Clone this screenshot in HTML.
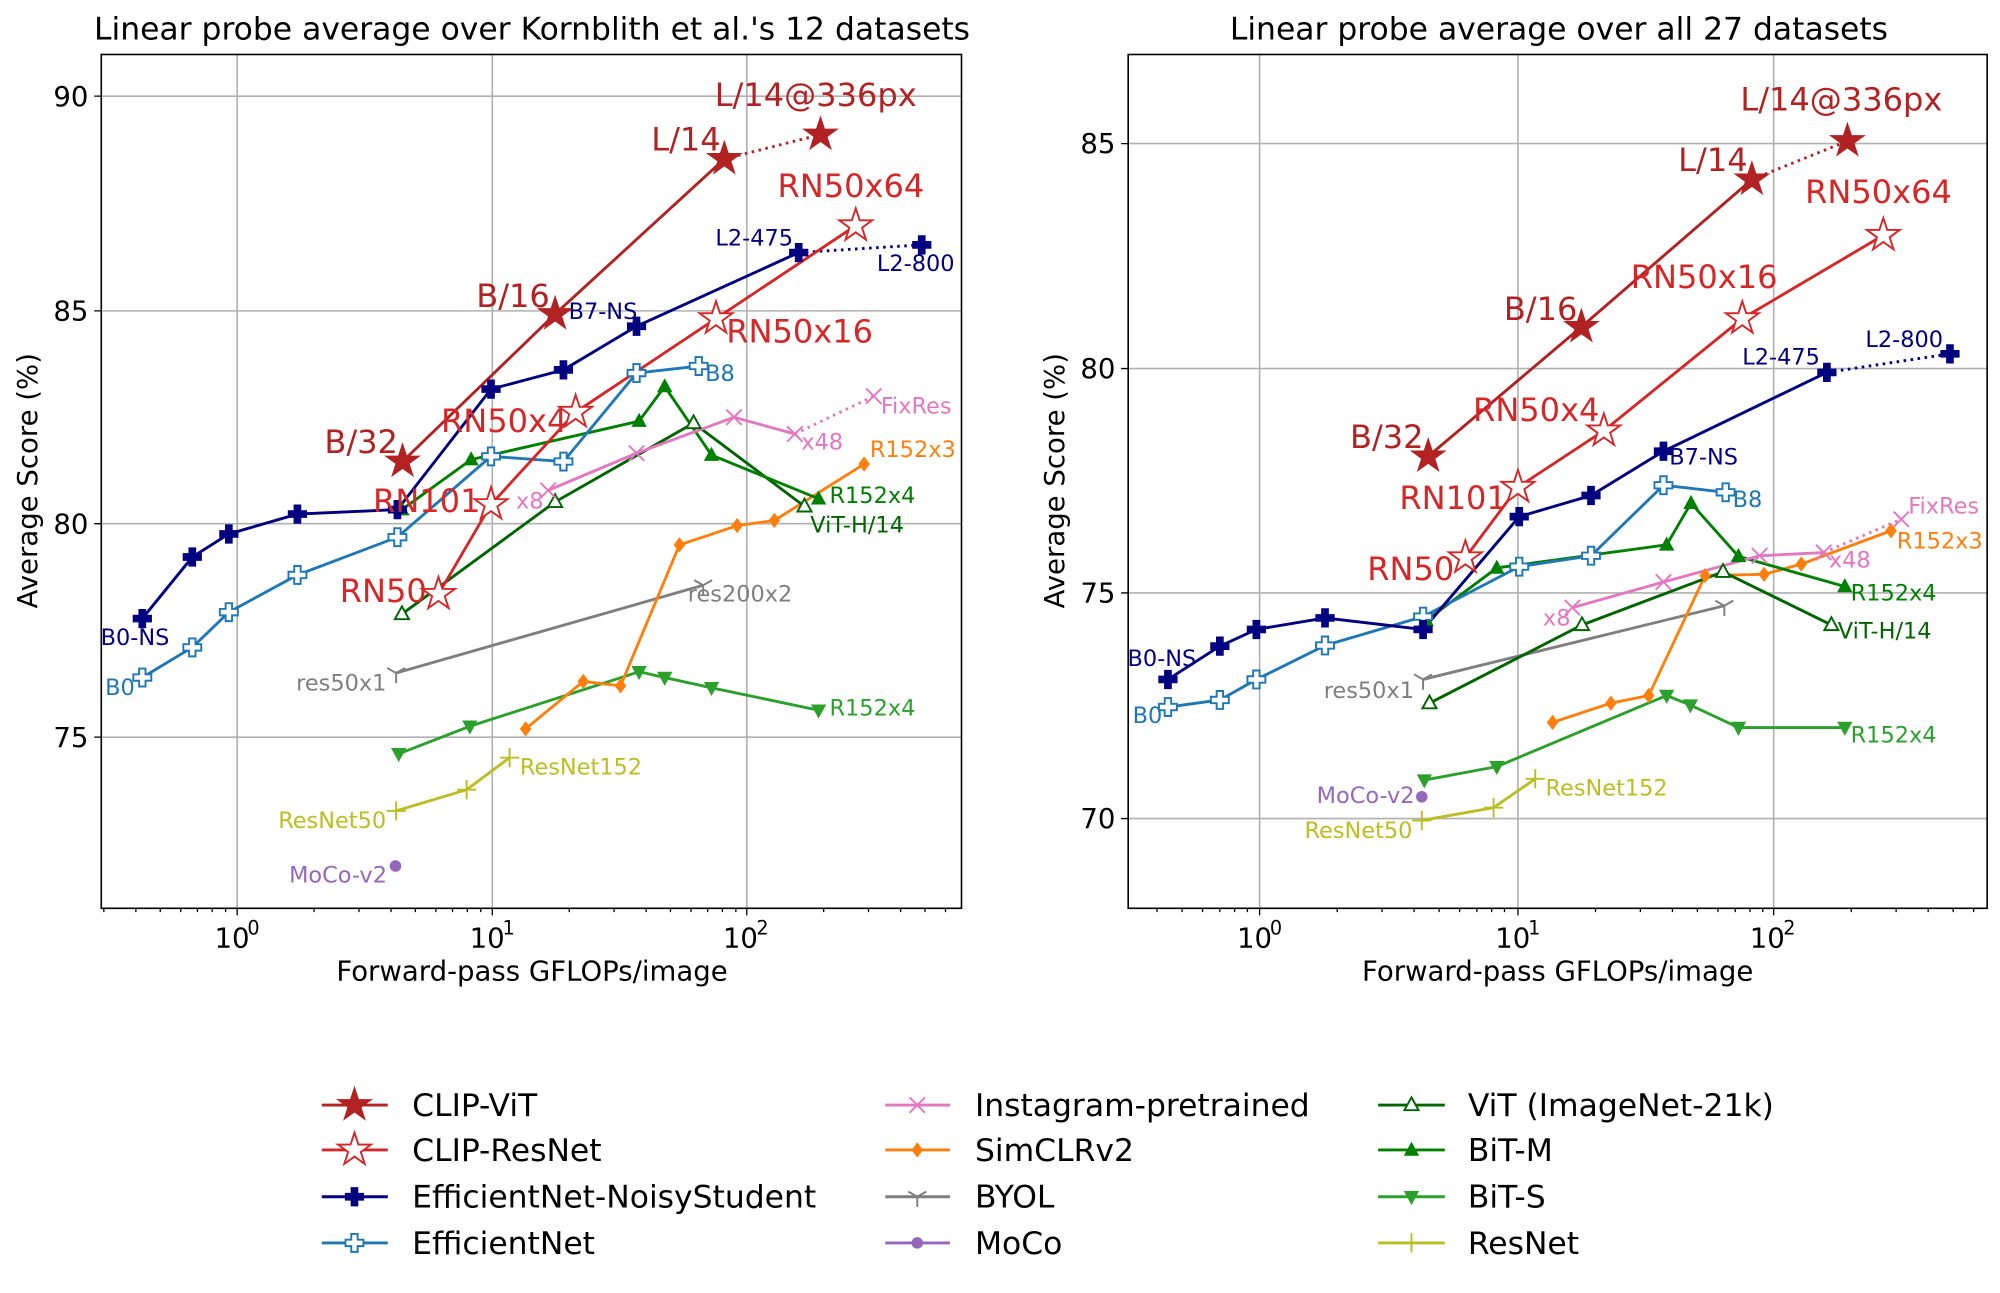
<!DOCTYPE html>
<html><head><meta charset="utf-8"><style>
html,body{margin:0;padding:0;background:#fff}
svg{display:block}
text{font-family:"DejaVu Sans","Liberation Sans",sans-serif}
</style></head><body>
<svg width="2000" height="1293" viewBox="0 0 2000 1293" xmlns="http://www.w3.org/2000/svg">
<defs>
<g id="starF"><polygon points="0,-27 6.1,-8.4 25.7,-8.3 9.9,3.2 15.9,21.8 0,10.4 -15.9,21.8 -9.9,3.2 -25.7,-8.3 -6.1,-8.4" fill="#b22222" stroke="#b22222" stroke-width="2"/></g>
<g id="starO"><polygon points="0,-27 6.1,-8.4 25.7,-8.3 9.9,3.2 15.9,21.8 0,10.4 -15.9,21.8 -9.9,3.2 -25.7,-8.3 -6.1,-8.4" fill="#fff" stroke="#d62728" stroke-width="3"/></g>
<g id="plusF"><path d="M-5,-14H5V-5H14V5H5V14H-5V5H-14V-5H-5Z" fill="#000080" stroke="#000080" stroke-width="2"/></g>
<g id="plusO"><path d="M-5,-14H5V-5H14V5H5V14H-5V5H-14V-5H-5Z" fill="#fff" stroke="#1f77b4" stroke-width="3"/></g>
<g id="xm"><path d="M-12,-12L12,12M-12,12L12,-12" stroke="#e377c2" stroke-width="3"/></g>
<g id="dia"><polygon points="0,-12 9,0 0,12 -9,0" fill="#ff7f0e"/></g>
<g id="tri1"><path d="M0,0V16M0,0L-14,-8M0,0L14,-8" stroke="#7f7f7f" stroke-width="3" fill="none"/></g>
<g id="circ"><circle r="9" fill="#9467bd"/></g>
<g id="triO"><polygon points="0,-12 11,8 -11,8" fill="#fff" stroke="#006400" stroke-width="3"/></g>
<g id="triM"><polygon points="0,-13 12,9 -12,9" fill="#008000"/></g>
<g id="triS"><polygon points="0,13 12,-9 -12,-9" fill="#2ca02c"/></g>
<g id="plusT"><path d="M-15,0H15M0,-15V15" stroke="#bcbd22" stroke-width="3"/></g>
</defs>

<!-- LEFT PLOT -->
<g transform="scale(0.641)">
<text x="830" y="62" font-size="49" text-anchor="middle">Linear probe average over Kornblith et al.'s 12 datasets</text>
<g stroke="#b0b0b0" stroke-width="2.5">
<line x1="370" y1="85" x2="370" y2="1417"/><line x1="768" y1="85" x2="768" y2="1417"/><line x1="1165" y1="85" x2="1165" y2="1417"/>
<line x1="158" y1="150" x2="1500" y2="150"/><line x1="158" y1="485" x2="1500" y2="485"/><line x1="158" y1="817" x2="1500" y2="817"/><line x1="158" y1="1150" x2="1500" y2="1150"/>
</g>
<g stroke="#000" stroke-width="2">
<path d="M162,1417v6M212,1417v6M250,1417v6M282,1417v6M308,1417v6M331,1417v6M352,1417v6M490,1417v6M560,1417v6M610,1417v6M648,1417v6M680,1417v6M706,1417v6M729,1417v6M750,1417v6M888,1417v6M958,1417v6M1008,1417v6M1046,1417v6M1078,1417v6M1104,1417v6M1127,1417v6M1148,1417v6M1285,1417v6M1355,1417v6M1405,1417v6M1443,1417v6M1475,1417v6"/>
<path d="M370,1417v11M768,1417v11M1165,1417v11M158,150h-11M158,485h-11M158,817h-11M158,1150h-11"/>
</g>
<g font-size="43" text-anchor="end"><text x="138" y="165">90</text><text x="138" y="500">85</text><text x="138" y="832">80</text><text x="138" y="1165">75</text></g>
<g font-size="43" text-anchor="middle"><text x="362" y="1478">10</text><text x="760" y="1478">10</text><text x="1155" y="1478">10</text></g>
<g font-size="30"><text x="386" y="1458">0</text><text x="784" y="1458">1</text><text x="1180" y="1458">2</text></g>
<text x="830" y="1530" font-size="43" text-anchor="middle">Forward-pass GFLOPs/image</text>
<text transform="translate(58,750) rotate(-90)" font-size="43" text-anchor="middle">Average Score (%)</text>

<g fill="none" stroke-width="4.5">
<polyline stroke="#bcbd22" points="618,1265 728,1232 795,1182"/>
<polyline stroke="#2ca02c" points="622,1176 733,1133 997,1048 1037,1057 1110,1073 1277,1108"/>
<polyline stroke="#7f7f7f" points="618,1050 1097,913"/>
<polyline stroke="#ff7f0e" points="820,1137 910,1063 968,1070 1060,850 1150,820 1208,812 1348,724"/>
<polyline stroke="#006400" points="627,958 866,783 1082,660 1255,790"/>
<polyline stroke="#008000" points="627,795 735,717 997,657 1037,603 1110,710 1277,778"/>
<polyline stroke="#e377c2" points="855,765 993,707 1145,651 1240,677"/>
<polyline stroke="#e377c2" stroke-dasharray="4,7" points="1240,677 1363,618"/>
<polyline stroke="#1f77b4" points="222,1057 300,1010 357,955 464,897 620,838 766,712 879,720 993,582 1090,571"/>
<polyline stroke="#000080" points="222,965 300,869 357,833 464,802 620,795 766,607 879,577 993,509 1246,394"/>
<polyline stroke="#000080" stroke-dasharray="4,7" points="1246,394 1438,382"/>
<polyline stroke="#d62728" points="684,927 766,787 898,643 1117,497 1335,352"/>
<polyline stroke="#b22222" points="628,720 866,490 1130,248"/>
<polyline stroke="#b22222" stroke-dasharray="4,7" points="1130,248 1280,210"/>
</g>
<use href="#plusT" x="618" y="1265"/><use href="#plusT" x="728" y="1232"/><use href="#plusT" x="795" y="1182"/>
<use href="#triS" x="622" y="1176"/><use href="#triS" x="733" y="1133"/><use href="#triS" x="997" y="1048"/><use href="#triS" x="1037" y="1057"/><use href="#triS" x="1110" y="1073"/><use href="#triS" x="1277" y="1108"/>
<use href="#tri1" x="618" y="1050"/><use href="#tri1" x="1097" y="913"/>
<use href="#circ" x="617" y="1351"/>
<use href="#dia" x="820" y="1137"/><use href="#dia" x="910" y="1063"/><use href="#dia" x="968" y="1070"/><use href="#dia" x="1060" y="850"/><use href="#dia" x="1150" y="820"/><use href="#dia" x="1208" y="812"/><use href="#dia" x="1348" y="724"/>
<use href="#triO" x="627" y="958"/><use href="#triO" x="866" y="783"/><use href="#triO" x="1082" y="660"/><use href="#triO" x="1255" y="790"/>
<use href="#triM" x="627" y="795"/><use href="#triM" x="735" y="717"/><use href="#triM" x="997" y="657"/><use href="#triM" x="1037" y="603"/><use href="#triM" x="1110" y="710"/><use href="#triM" x="1277" y="778"/>
<use href="#xm" x="855" y="765"/><use href="#xm" x="993" y="707"/><use href="#xm" x="1145" y="651"/><use href="#xm" x="1240" y="677"/><use href="#xm" x="1363" y="618"/>
<use href="#plusO" x="222" y="1057"/><use href="#plusO" x="300" y="1010"/><use href="#plusO" x="357" y="955"/><use href="#plusO" x="464" y="897"/><use href="#plusO" x="620" y="838"/><use href="#plusO" x="766" y="712"/><use href="#plusO" x="879" y="720"/><use href="#plusO" x="993" y="582"/><use href="#plusO" x="1090" y="571"/>
<use href="#plusF" x="222" y="965"/><use href="#plusF" x="300" y="869"/><use href="#plusF" x="357" y="833"/><use href="#plusF" x="464" y="802"/><use href="#plusF" x="620" y="795"/><use href="#plusF" x="766" y="607"/><use href="#plusF" x="879" y="577"/><use href="#plusF" x="993" y="509"/><use href="#plusF" x="1246" y="394"/><use href="#plusF" x="1438" y="382"/>
<use href="#starO" x="684" y="927"/><use href="#starO" x="766" y="787"/><use href="#starO" x="898" y="643"/><use href="#starO" x="1117" y="497"/><use href="#starO" x="1335" y="352"/>
<use href="#starF" x="628" y="720"/><use href="#starF" x="866" y="490"/><use href="#starF" x="1130" y="248"/><use href="#starF" x="1280" y="210"/>
<g font-size="50" fill="#b22222"><text x="506" y="707">B/32</text><text x="743" y="479">B/16</text><text x="1016" y="235">L/14</text><text x="1115" y="165">L/14@336px</text></g>
<g font-size="50" fill="#d62728"><text x="530" y="939">RN50</text><text x="582" y="799">RN101</text><text x="688" y="674">RN50x4</text><text x="1133" y="534">RN50x16</text><text x="1213" y="307">RN50x64</text></g>
<g font-size="35">
<g fill="#000080"><text x="157" y="1006">B0-NS</text><text x="887" y="498">B7-NS</text><text x="1116" y="383">L2-475</text><text x="1368" y="423">L2-800</text></g>
<g fill="#1f77b4"><text x="164" y="1084">B0</text><text x="1100" y="594">B8</text></g>
<g fill="#e377c2"><text x="805" y="793">x8</text><text x="1250" y="701">x48</text><text x="1374" y="645">FixRes</text></g>
<g fill="#ff7f0e"><text x="1357" y="713">R152x3</text></g>
<g fill="#7f7f7f"><text x="462" y="1077">res50x1</text><text x="1073" y="938">res200x2</text></g>
<g fill="#9467bd"><text x="451" y="1377">MoCo-v2</text></g>
<g fill="#006400"><text x="1264" y="831">ViT-H/14</text></g>
<g fill="#008000"><text x="1294" y="785">R152x4</text></g>
<g fill="#2ca02c"><text x="1294" y="1116">R152x4</text></g>
<g fill="#bcbd22"><text x="434" y="1292">ResNet50</text><text x="811" y="1208">ResNet152</text></g>
</g>
<rect x="158" y="85" width="1342" height="1332" fill="none" stroke="#000" stroke-width="2.5"/>
</g>

<!-- RIGHT PLOT -->
<g transform="translate(1000,0) scale(0.641)">
<text x="872" y="62" font-size="49" text-anchor="middle">Linear probe average over all 27 datasets</text>
<g stroke="#b0b0b0" stroke-width="2.5">
<line x1="405" y1="85" x2="405" y2="1417"/><line x1="808" y1="85" x2="808" y2="1417"/><line x1="1207" y1="85" x2="1207" y2="1417"/>
<line x1="200" y1="224" x2="1540" y2="224"/><line x1="200" y1="575" x2="1540" y2="575"/><line x1="200" y1="925" x2="1540" y2="925"/><line x1="200" y1="1277" x2="1540" y2="1277"/>
</g>
<g stroke="#000" stroke-width="2">
<path d="M245,1417v6M284,1417v6M316,1417v6M343,1417v6M366,1417v6M386,1417v6M526,1417v6M596,1417v6M646,1417v6M685,1417v6M717,1417v6M744,1417v6M767,1417v6M787,1417v6M929,1417v6M999,1417v6M1049,1417v6M1088,1417v6M1120,1417v6M1147,1417v6M1170,1417v6M1190,1417v6M1328,1417v6M1398,1417v6M1448,1417v6M1487,1417v6M1519,1417v6"/>
<path d="M405,1417v11M808,1417v11M1207,1417v11M200,224h-11M200,575h-11M200,925h-11M200,1277h-11"/>
</g>
<g font-size="43" text-anchor="end"><text x="180" y="239">85</text><text x="180" y="590">80</text><text x="180" y="940">75</text><text x="180" y="1292">70</text></g>
<g font-size="43" text-anchor="middle"><text x="397" y="1478">10</text><text x="800" y="1478">10</text><text x="1197" y="1478">10</text></g>
<g font-size="30"><text x="421" y="1458">0</text><text x="824" y="1458">1</text><text x="1222" y="1458">2</text></g>
<text x="870" y="1530" font-size="43" text-anchor="middle">Forward-pass GFLOPs/image</text>
<text transform="translate(100,750) rotate(-90)" font-size="43" text-anchor="middle">Average Score (%)</text>

<g fill="none" stroke-width="4.5">
<polyline stroke="#bcbd22" points="658,1280 770,1260 835,1215"/>
<polyline stroke="#2ca02c" points="662,1217 775,1196 1040,1085 1077,1100 1152,1135 1318,1135"/>
<polyline stroke="#7f7f7f" points="660,1060 1130,945"/>
<polyline stroke="#ff7f0e" points="862,1127 953,1097 1012,1085 1100,898 1192,896 1250,880 1390,828"/>
<polyline stroke="#006400" points="670,1097 908,975 1128,892 1297,975"/>
<polyline stroke="#008000" points="665,968 775,886 1040,850 1078,785 1152,868 1318,915"/>
<polyline stroke="#e377c2" points="893,948 1035,908 1185,867 1285,862"/>
<polyline stroke="#e377c2" stroke-dasharray="4,7" points="1285,862 1406,810"/>
<polyline stroke="#1f77b4" points="262,1103 343,1092 400,1060 507,1007 660,962 810,884 922,867 1035,757 1132,768"/>
<polyline stroke="#000080" points="262,1060 343,1008 400,982 507,964 660,982 810,806 922,773 1035,704 1290,581"/>
<polyline stroke="#000080" stroke-dasharray="4,7" points="1290,581 1482,552"/>
<polyline stroke="#d62728" points="726,870 808,760 942,672 1158,497 1378,367"/>
<polyline stroke="#b22222" points="668,712 907,510 1173,280"/>
<polyline stroke="#b22222" stroke-dasharray="4,7" points="1173,280 1322,220"/>
</g>
<use href="#plusT" x="658" y="1280"/><use href="#plusT" x="770" y="1260"/><use href="#plusT" x="835" y="1215"/>
<use href="#triS" x="662" y="1217"/><use href="#triS" x="775" y="1196"/><use href="#triS" x="1040" y="1085"/><use href="#triS" x="1077" y="1100"/><use href="#triS" x="1152" y="1135"/><use href="#triS" x="1318" y="1135"/>
<use href="#tri1" x="660" y="1060"/><use href="#tri1" x="1130" y="945"/>
<use href="#circ" x="658" y="1243"/>
<use href="#dia" x="862" y="1127"/><use href="#dia" x="953" y="1097"/><use href="#dia" x="1012" y="1085"/><use href="#dia" x="1100" y="898"/><use href="#dia" x="1192" y="896"/><use href="#dia" x="1250" y="880"/><use href="#dia" x="1390" y="828"/>
<use href="#triO" x="670" y="1097"/><use href="#triO" x="908" y="975"/><use href="#triO" x="1128" y="892"/><use href="#triO" x="1297" y="975"/>
<use href="#triM" x="665" y="968"/><use href="#triM" x="775" y="886"/><use href="#triM" x="1040" y="850"/><use href="#triM" x="1078" y="785"/><use href="#triM" x="1152" y="868"/><use href="#triM" x="1318" y="915"/>
<use href="#xm" x="893" y="948"/><use href="#xm" x="1035" y="908"/><use href="#xm" x="1185" y="867"/><use href="#xm" x="1285" y="862"/><use href="#xm" x="1406" y="810"/>
<use href="#plusO" x="262" y="1103"/><use href="#plusO" x="343" y="1092"/><use href="#plusO" x="400" y="1060"/><use href="#plusO" x="507" y="1007"/><use href="#plusO" x="660" y="962"/><use href="#plusO" x="810" y="884"/><use href="#plusO" x="922" y="867"/><use href="#plusO" x="1035" y="757"/><use href="#plusO" x="1132" y="768"/>
<use href="#plusF" x="262" y="1060"/><use href="#plusF" x="343" y="1008"/><use href="#plusF" x="400" y="982"/><use href="#plusF" x="507" y="964"/><use href="#plusF" x="660" y="982"/><use href="#plusF" x="810" y="806"/><use href="#plusF" x="922" y="773"/><use href="#plusF" x="1035" y="704"/><use href="#plusF" x="1290" y="581"/><use href="#plusF" x="1482" y="552"/>
<use href="#starO" x="726" y="870"/><use href="#starO" x="808" y="760"/><use href="#starO" x="942" y="672"/><use href="#starO" x="1158" y="497"/><use href="#starO" x="1378" y="367"/>
<use href="#starF" x="668" y="712"/><use href="#starF" x="907" y="510"/><use href="#starF" x="1173" y="280"/><use href="#starF" x="1322" y="220"/>
<g font-size="50" fill="#b22222"><text x="546" y="699">B/32</text><text x="786" y="499">B/16</text><text x="1058" y="267">L/14</text><text x="1155" y="172">L/14@336px</text></g>
<g font-size="50" fill="#d62728"><text x="573" y="905">RN50</text><text x="623" y="794">RN101</text><text x="738" y="657">RN50x4</text><text x="984" y="449">RN50x16</text><text x="1256" y="317">RN50x64</text></g>
<g font-size="35">
<g fill="#000080"><text x="199" y="1039">B0-NS</text><text x="1044" y="725">B7-NS</text><text x="1158" y="569">L2-475</text><text x="1350" y="541">L2-800</text></g>
<g fill="#1f77b4"><text x="207" y="1128">B0</text><text x="1143" y="791">B8</text></g>
<g fill="#e377c2"><text x="847" y="976">x8</text><text x="1293" y="885">x48</text><text x="1417" y="801">FixRes</text></g>
<g fill="#ff7f0e"><text x="1399" y="856">R152x3</text></g>
<g fill="#7f7f7f"><text x="505" y="1089">res50x1</text></g>
<g fill="#9467bd"><text x="494" y="1253">MoCo-v2</text></g>
<g fill="#006400"><text x="1307" y="996">ViT-H/14</text></g>
<g fill="#008000"><text x="1327" y="937">R152x4</text></g>
<g fill="#2ca02c"><text x="1327" y="1158">R152x4</text></g>
<g fill="#bcbd22"><text x="475" y="1307">ResNet50</text><text x="851" y="1241">ResNet152</text></g>
</g>
<rect x="200" y="85" width="1340" height="1332" fill="none" stroke="#000" stroke-width="2.5"/>
</g>

<!-- LEGEND -->
<g transform="scale(0.641)">
<g stroke-width="4.5">
<line x1="502" y1="1724" x2="605" y2="1724" stroke="#b22222"/>
<line x1="502" y1="1794" x2="605" y2="1794" stroke="#d62728"/>
<line x1="502" y1="1867" x2="605" y2="1867" stroke="#000080"/>
<line x1="502" y1="1939" x2="605" y2="1939" stroke="#1f77b4"/>
<line x1="1381" y1="1724" x2="1482" y2="1724" stroke="#e377c2"/>
<line x1="1381" y1="1794" x2="1482" y2="1794" stroke="#ff7f0e"/>
<line x1="1381" y1="1867" x2="1482" y2="1867" stroke="#7f7f7f"/>
<line x1="1381" y1="1939" x2="1482" y2="1939" stroke="#9467bd"/>
<line x1="2150" y1="1724" x2="2254" y2="1724" stroke="#006400"/>
<line x1="2150" y1="1794" x2="2254" y2="1794" stroke="#008000"/>
<line x1="2150" y1="1867" x2="2254" y2="1867" stroke="#2ca02c"/>
<line x1="2150" y1="1939" x2="2254" y2="1939" stroke="#bcbd22"/>
</g>
<use href="#starF" x="553" y="1724"/><use href="#starO" x="553" y="1794"/><use href="#plusF" x="553" y="1867"/><use href="#plusO" x="553" y="1939"/>
<use href="#xm" x="1431" y="1724"/><use href="#dia" x="1431" y="1794"/><use href="#tri1" x="1431" y="1867"/><use href="#circ" x="1431" y="1939"/>
<use href="#triO" x="2202" y="1724"/><use href="#triM" x="2202" y="1794"/><use href="#triS" x="2202" y="1867"/><use href="#plusT" x="2202" y="1939"/>
<g font-size="49">
<text x="643" y="1741">CLIP-ViT</text><text x="643" y="1811">CLIP-ResNet</text><text x="643" y="1884">EfficientNet-NoisyStudent</text><text x="643" y="1956">EfficientNet</text>
<text x="1521" y="1741">Instagram-pretrained</text><text x="1521" y="1811">SimCLRv2</text><text x="1521" y="1884">BYOL</text><text x="1521" y="1956">MoCo</text>
<text x="2290" y="1741">ViT (ImageNet-21k)</text><text x="2290" y="1811">BiT-M</text><text x="2290" y="1884">BiT-S</text><text x="2290" y="1956">ResNet</text>
</g>
</g>
</svg>
</body></html>
